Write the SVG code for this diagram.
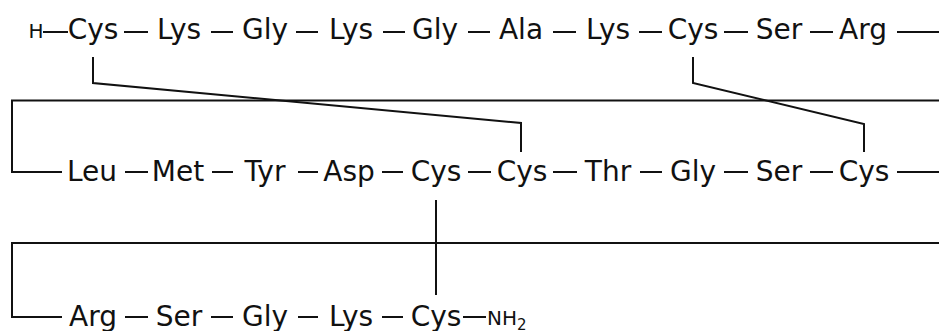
<svg xmlns="http://www.w3.org/2000/svg" width="939" height="331" viewBox="0 0 939 331">
<style>
.r{font-family:"DejaVu Sans",sans-serif;font-size:28px;fill:#111;text-anchor:middle}
.s{font-family:"DejaVu Sans",sans-serif;font-size:20px;fill:#111}
.b{stroke:#111;stroke-width:2;fill:none}
</style>
<rect width="939" height="331" fill="#fff"/>
<g id="connectors" class="b">
<line x1="43" y1="32" x2="68" y2="32"/>
<line x1="124" y1="32" x2="148" y2="32"/>
<line x1="211" y1="32" x2="233" y2="32"/>
<line x1="296" y1="32" x2="318" y2="32"/>
<line x1="383" y1="32" x2="405" y2="32"/>
<line x1="468" y1="32" x2="490" y2="32"/>
<line x1="553" y1="32" x2="576" y2="32"/>
<line x1="639" y1="32" x2="662" y2="32"/>
<line x1="724" y1="32" x2="748" y2="32"/>
<line x1="810" y1="32" x2="833" y2="32"/>
<line x1="897" y1="32" x2="939" y2="32"/>
<polyline points="939,100.5 12,100.5 12,172 62,172"/>
<line x1="125" y1="172" x2="148" y2="172"/>
<line x1="212" y1="172" x2="233" y2="172"/>
<line x1="298" y1="172" x2="318" y2="172"/>
<line x1="382" y1="172" x2="403" y2="172"/>
<line x1="468" y1="172" x2="491" y2="172"/>
<line x1="553" y1="172" x2="577" y2="172"/>
<line x1="640" y1="172" x2="662" y2="172"/>
<line x1="724" y1="172" x2="748" y2="172"/>
<line x1="810" y1="172" x2="833" y2="172"/>
<line x1="897" y1="172" x2="939" y2="172"/>
<polyline points="939,243 12,243 12,317 62,317"/>
<line x1="125" y1="317" x2="148" y2="317"/>
<line x1="211" y1="317" x2="233" y2="317"/>
<line x1="298" y1="317" x2="318" y2="317"/>
<line x1="382" y1="317" x2="403" y2="317"/>
<line x1="463" y1="317" x2="486" y2="317"/>
<polyline points="93,57 93,83 521,123 521,152"/>
<polyline points="693,57 693,83 864,124 864,152"/>
<line x1="436" y1="200" x2="436" y2="295"/>
</g>
<g id="H"><text class="s" x="36" y="38" text-anchor="middle">H</text></g>
<g id="r1"><text class="r" x="93" y="39">Cys</text></g>
<g id="r2"><text class="r" x="179" y="39">Lys</text></g>
<g id="r3"><text class="r" x="265" y="39">Gly</text></g>
<g id="r4"><text class="r" x="351" y="39">Lys</text></g>
<g id="r5"><text class="r" x="435" y="39">Gly</text></g>
<g id="r6"><text class="r" x="521" y="39">Ala</text></g>
<g id="r7"><text class="r" x="608" y="39">Lys</text></g>
<g id="r8"><text class="r" x="693" y="39">Cys</text></g>
<g id="r9"><text class="r" x="779" y="39">Ser</text></g>
<g id="r10"><text class="r" x="863" y="39">Arg</text></g>
<g id="r11"><text class="r" x="92" y="181">Leu</text></g>
<g id="r12"><text class="r" x="178" y="181">Met</text></g>
<g id="r13"><text class="r" x="265" y="181">Tyr</text></g>
<g id="r14"><text class="r" x="349" y="181">Asp</text></g>
<g id="r15"><text class="r" x="436" y="181">Cys</text></g>
<g id="r16"><text class="r" x="522" y="181">Cys</text></g>
<g id="r17"><text class="r" x="608" y="181">Thr</text></g>
<g id="r18"><text class="r" x="693" y="181">Gly</text></g>
<g id="r19"><text class="r" x="779" y="181">Ser</text></g>
<g id="r20"><text class="r" x="864" y="181">Cys</text></g>
<g id="r21"><text class="r" x="93" y="326">Arg</text></g>
<g id="r22"><text class="r" x="179" y="326">Ser</text></g>
<g id="r23"><text class="r" x="265" y="326">Gly</text></g>
<g id="r24"><text class="r" x="351" y="326">Lys</text></g>
<g id="r25"><text class="r" x="436" y="326">Cys</text></g>
<g id="NH2"><text class="s" x="487" y="325">NH<tspan font-size="15" dy="5">2</tspan></text></g>
</svg>
